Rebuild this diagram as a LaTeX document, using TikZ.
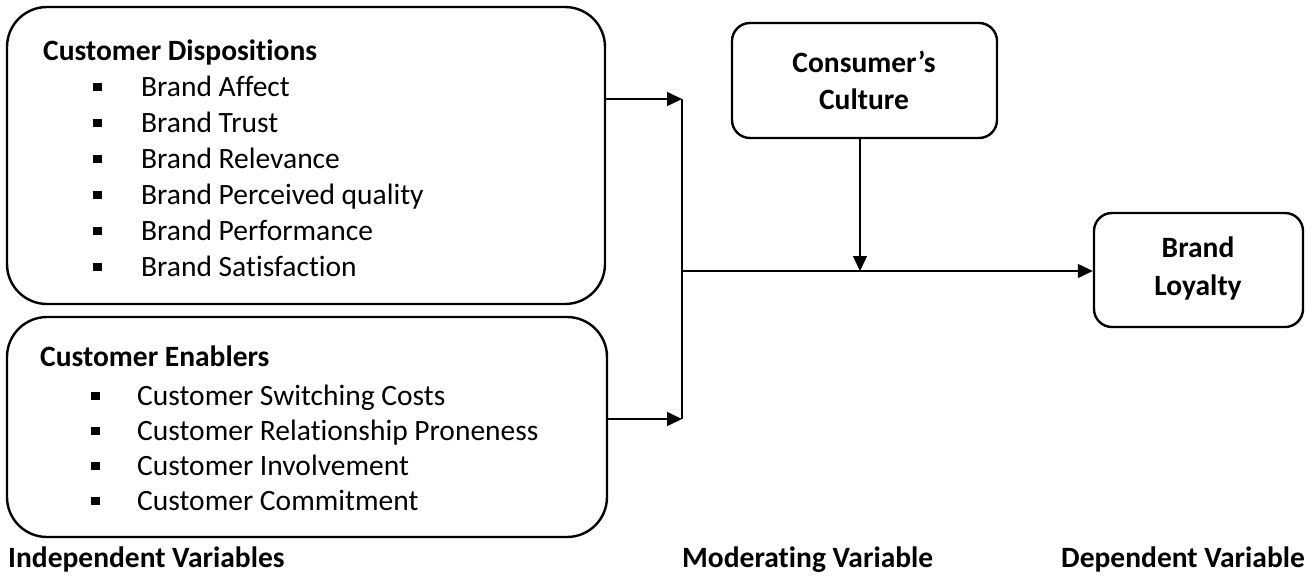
\documentclass[tikz,border=0pt]{standalone}
\usepackage{fontspec}
\setmainfont{Carlito}[Ligatures=NoCommon]
\usetikzlibrary{arrows.meta}
\begin{document}
\begin{tikzpicture}[x=1pt,y=-1pt,
  box/.style={draw,line width=2.4pt,rounded corners=#1,inner sep=0pt},
  txt/.style={anchor=base west,inner sep=0pt,font=\fontsize{29.5}{36}\selectfont},
  head/.style={anchor=base west,inner sep=0pt,font=\fontsize{29.5}{36}\selectfont\bfseries},
  ctr/.style={anchor=base,inner sep=0pt,font=\fontsize{29.5}{36}\selectfont\bfseries},
  bul/.style={anchor=base west,inner sep=0pt},
  conn/.style={line width=1.4pt},
  arr/.style={conn,-{Triangle[length=15pt,width=14pt]}}]
\useasboundingbox (0,0) rectangle (1314,579);

% boxes
\node[box=40pt,minimum width=598pt,minimum height=297pt] (disp) at (306,155.5) {};
\node[box=40pt,minimum width=600pt,minimum height=220pt] (enab) at (307,427) {};
\node[box=18pt,minimum width=265pt,minimum height=115pt] (cult) at (864.5,80.5) {};
\node[box=18pt,minimum width=209pt,minimum height=114pt] (loyal) at (1198.5,270) {};

% customer dispositions
\node[head] (dh) at (43,60) {Customer Dispositions};
\foreach \t [count=\i] in {Brand Affect,Brand Trust,Brand Relevance,Brand Perceived quality,Brand Performance,Brand Satisfaction}{
  \node[bul] (db\i) at (93,60+36*\i) {\rule[5pt]{8.5pt}{8.5pt}};
  \node[txt] (dt\i) at (141,60+36*\i) {\t};
}

% customer enablers
\node[head] (eh) at (40,366) {Customer Enablers};
\foreach \t [count=\i] in {Customer Switching Costs,Customer Relationship Proneness,Customer Involvement,Customer Commitment}{
  \node[bul] (eb\i) at (91,370+35*\i) {\rule[5pt]{8.5pt}{8.5pt}};
  \node[txt] (et\i) at (137,370+35*\i) {\t};
}

% moderator and outcome
\node[ctr] (c1) at (864,72) {Consumer’s};
\node[ctr] (c2) at (864,109) {Culture};
\node[ctr] (l1) at (1198,257) {Brand};
\node[ctr] (l2) at (1198,295) {Loyalty};

% column labels
\node[head] (iv) at (8,567) {Independent Variables};
\node[head] (mv) at (682,567) {Moderating Variable};
\node[head] (dv) at (1061,567) {Dependent Variable};

% connectors
\coordinate (j1) at (682,99);
\coordinate (j2) at (682,419);
\coordinate (jm) at (683,271);
\coordinate (jc) at (860,271);
\draw[arr] (disp.east |- j1) -- (j1);
\draw[arr] (enab.east |- j2) -- (j2);
\draw[conn] (j1) -- (j2);
\draw[arr] (jm) -- (loyal.west |- jm);
\draw[arr] (cult.south -| jc) -- (jc);
\end{tikzpicture}
\end{document}
